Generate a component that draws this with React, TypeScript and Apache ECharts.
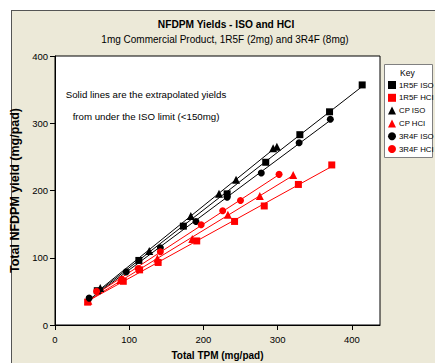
import React, { useEffect, useRef } from "react";
import * as echarts from "echarts";

// ---- Data ----
const seriesNames = ["1R5F ISO", "1R5F HCI", "CP ISO", "CP HCI", "3R4F ISO", "3R4F HCI"];
const seriesColors = ["#000000", "#ff0000", "#000000", "#ff0000", "#000000", "#ff0000"];
const seriesSymbols = ["rect", "rect", "triangle", "triangle", "circle", "circle"];

const r5fIsoTpm = [57, 113, 173, 232, 284, 330, 370, 414];
const r5fIsoNfdpm = [51, 96, 147, 195, 242, 283, 317, 357];

const r5fHciTpm = [44, 92, 114, 139, 191, 242, 282, 328, 373];
const r5fHciNfdpm = [34, 65, 82, 93, 125, 154, 177, 209, 238];

const cpIsoTpm = [61, 127, 183, 221, 244, 294, 299];
const cpIsoNfdpm = [55, 110, 162, 195, 216, 263, 265];

const cpHciTpm = [45, 88, 138, 185, 233, 276, 321];
const cpHciNfdpm = [36, 67, 99, 128, 164, 192, 223];

const r4fIsoTpm = [46, 96, 142, 190, 232, 278, 329, 371];
const r4fIsoNfdpm = [40, 79, 115, 154, 190, 226, 271, 306];

const r4fHciTpm = [56, 90, 112, 142, 197, 226, 250, 302];
const r4fHciNfdpm = [50, 68, 84, 109, 149, 170, 185, 224];

const xTicks = [0, 100, 200, 300, 400];
const yTicks = [0, 100, 200, 300, 400];

const titleText = "NFDPM Yields - ISO and HCI";
const subtitleText = "1mg Commercial Product, 1R5F (2mg) and 3R4F (8mg)";
const noteLines = ["Solid lines are the extrapolated yields", "from under the ISO limit (<150mg)"];
const xName = "Total TPM (mg/pad)";
const yName = "Total NFDPM yield (mg/pad)";

const allX = [r5fIsoTpm, r5fHciTpm, cpIsoTpm, cpHciTpm, r4fIsoTpm, r4fHciTpm];
const allY = [r5fIsoNfdpm, r5fHciNfdpm, cpIsoNfdpm, cpHciNfdpm, r4fIsoNfdpm, r4fHciNfdpm];

const FONT = "'Liberation Sans', Arial, sans-serif";

function fitLine(xs: number[], ys: number[]) {
  const n = xs.length;
  const mx = xs.reduce((a, b) => a + b, 0) / n;
  const my = ys.reduce((a, b) => a + b, 0) / n;
  let sxy = 0, sxx = 0;
  for (let i = 0; i < n; i++) {
    sxy += (xs[i] - mx) * (ys[i] - my);
    sxx += (xs[i] - mx) * (xs[i] - mx);
  }
  const b = sxy / sxx;
  const a = my - b * mx;
  const x0 = Math.min(...xs);
  const x1 = Math.max(...xs);
  return [[x0, a + b * x0], [x1, a + b * x1]];
}

export default function App() {
  const ref = useRef<HTMLDivElement>(null);
  useEffect(() => {
    if (!ref.current) return;
    const chart = echarts.init(ref.current, undefined, { renderer: "svg" });

    const scatterSeries = seriesNames.map((name, i) => ({
      name,
      type: "scatter",
      symbol: seriesSymbols[i],
      symbolSize: seriesSymbols[i] === "triangle" ? 8 : 7,
      itemStyle: { color: seriesColors[i], opacity: 1 },
      data: allX[i].map((x, j) => [x, allY[i][j]]),
      z: 5,
    }));
    const lineSeries = seriesNames.map((name, i) => ({
      name: "fit " + name,
      type: "line",
      symbol: "none",
      silent: true,
      lineStyle: { color: seriesColors[i], width: 1 },
      data: fitLine(allX[i], allY[i]),
      z: 3,
    }));

    chart.setOption({
      animation: false,
      textStyle: { fontFamily: FONT },
      grid: {
        left: 55, top: 56, width: 325, height: 269,
        outerBoundsMode: "none", containLabel: false,
        show: true, backgroundColor: "#ffffff", borderColor: "#000", borderWidth: 1,
      },
      xAxis: {
        type: "value", min: 0, max: 438, interval: 100,
        name: xName, nameLocation: "middle", nameGap: 25,
        nameTextStyle: { fontFamily: FONT, fontSize: 10, fontWeight: "bold", color: "#000" },
        axisLine: { show: true, onZero: false, lineStyle: { color: "#000" } },
        axisTick: { show: true, length: 5, lineStyle: { color: "#000" } },
        axisLabel: { color: "#000", fontSize: 9.5, margin: 9, showMaxLabel: false,
          formatter: (v: number) => (xTicks.includes(v) ? String(v) : "") },
        splitLine: { show: false },
      },
      yAxis: {
        type: "value", min: 0, max: 400, interval: 100,
        name: yName, nameLocation: "middle", nameGap: 26, nameRotate: 90,
        nameTextStyle: { fontFamily: FONT, fontSize: 12.5, fontWeight: "bold", color: "#000" },
        axisLine: { show: true, onZero: false, lineStyle: { color: "#000" } },
        axisTick: { show: true, length: 5, lineStyle: { color: "#000" } },
        axisLabel: { color: "#000", fontSize: 9.5, margin: 7,
          formatter: (v: number) => (yTicks.includes(v) ? String(v) : "") },
        splitLine: { show: false },
      },
      legend: {
        orient: "vertical", left: 388, top: 81, padding: 0,
        itemWidth: 8, itemHeight: 8, itemGap: 4.8,
        textStyle: { fontFamily: FONT, fontSize: 7.8, color: "#000", padding: [0, 0, 0, -2] },
        data: seriesNames.map((n, i) => ({ name: n, icon: seriesSymbols[i] })),
      },
      graphic: [
        { type: "rect", z: 0, shape: { x: 384.5, y: 64.5, width: 48, height: 93 },
          style: { fill: "#ffffff", stroke: "#808080", lineWidth: 1 } },
        { type: "text", x: 400, y: 73, style: { text: "Key", fontFamily: FONT, fontSize: 8.5, fill: "#000", textVerticalAlign: "middle" } },
        { type: "text", x: 226, y: 24, style: { text: titleText, fontFamily: FONT, fontSize: 10.2, fontWeight: "bold", fill: "#000", textAlign: "center", textVerticalAlign: "middle" } },
        { type: "text", x: 225, y: 39, style: { text: subtitleText, fontFamily: FONT, fontSize: 10, fill: "#000", textAlign: "center", textVerticalAlign: "middle" } },
        { type: "text", x: 146, y: 94, style: { text: noteLines[0], fontFamily: FONT, fontSize: 9.7, fill: "#000", textAlign: "center", textVerticalAlign: "middle" } },
        { type: "text", x: 146, y: 116, style: { text: noteLines[1], fontFamily: FONT, fontSize: 9.7, fill: "#000", textAlign: "center", textVerticalAlign: "middle" } },
      ],
      series: [...lineSeries, ...scatterSeries],
    });
    return () => chart.dispose();
  }, []);

  return (
    <div style={{ position: "fixed", left: 0, top: 0, width: 435, height: 363, background: "#ffffff", overflow: "hidden" }}>
      <div style={{ position: "absolute", left: 11, top: 10, width: 430, height: 360, background: "#ECE9D8", border: "1px solid #555" }} />
      <div ref={ref} style={{ position: "absolute", left: 0, top: 0, width: 435, height: 363 }} />
    </div>
  );
}
